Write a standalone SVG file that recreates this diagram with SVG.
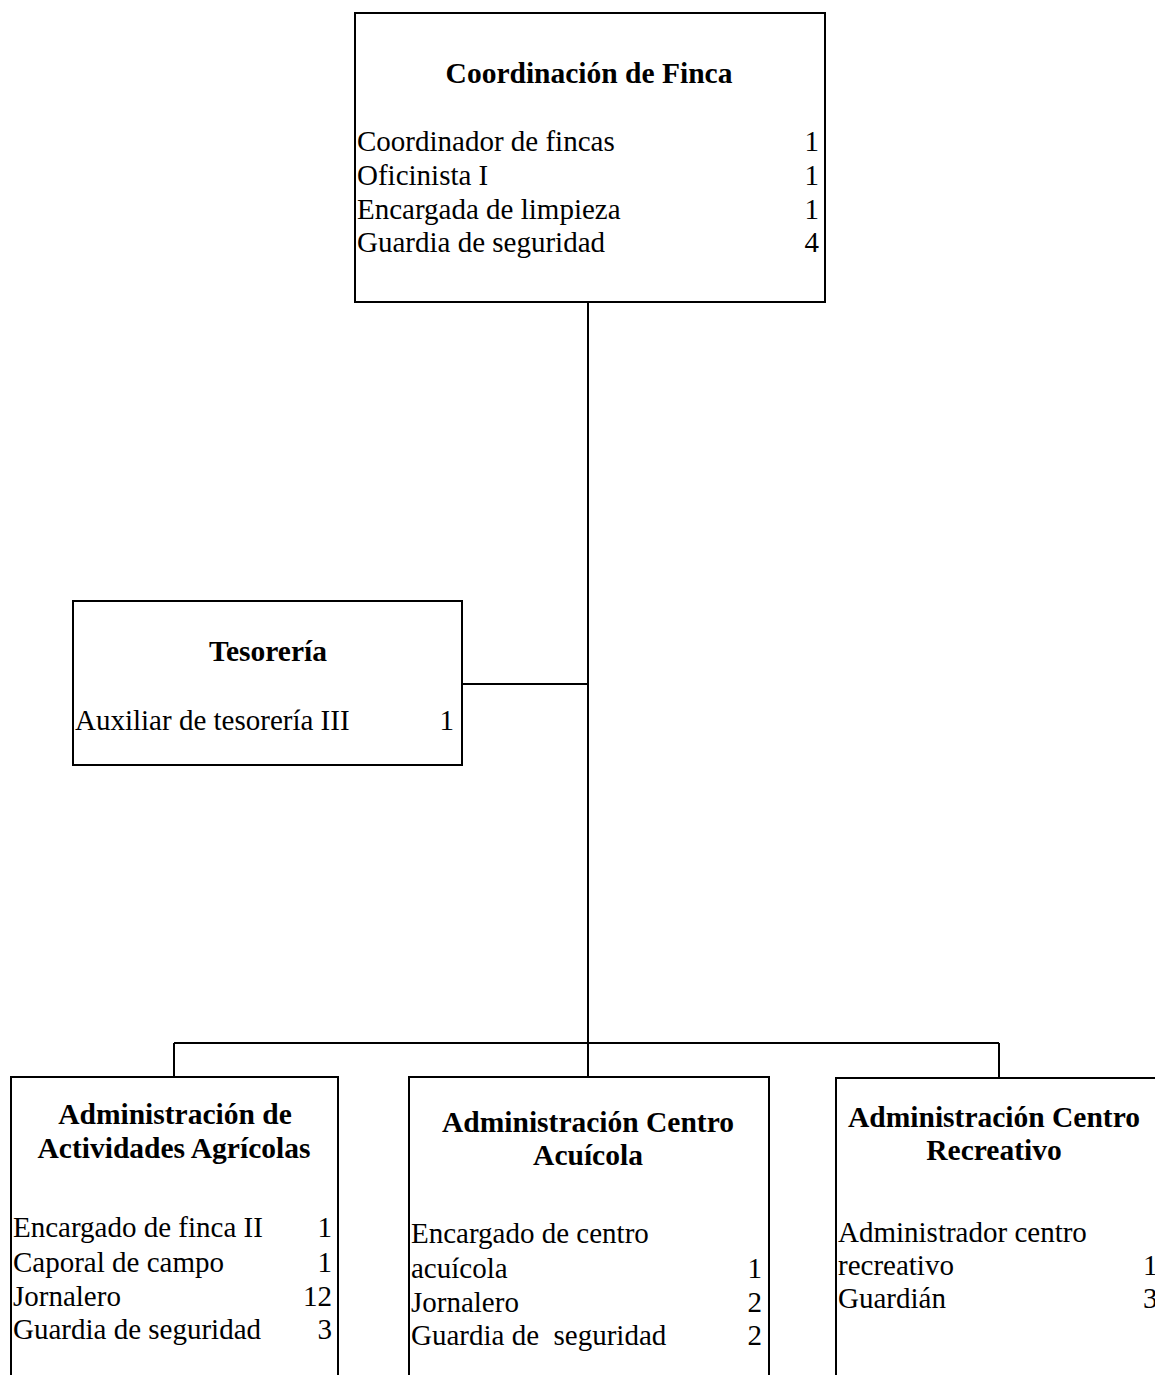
<svg xmlns="http://www.w3.org/2000/svg" width="1155" height="1375" viewBox="0 0 1155 1375">
<style>
.box{fill:#fff;stroke:#000;stroke-width:2}
.ln{stroke:#000;stroke-width:2;fill:none}
text{font-family:"Liberation Serif","Times New Roman",serif;fill:#000;font-size:29px}
.t{font-weight:bold;text-anchor:middle;font-size:29.5px}
.n{text-anchor:end}
</style>
<rect width="1155" height="1375" fill="#fff"/>
<g id="connectors">
<path class="ln" d="M588 302V1043M462 684H588M174 1043H999M174 1043V1077M588 1043V1077M999 1043V1077"/>
</g>
<g id="coordinacion">
<rect class="box" x="355" y="13" width="470" height="289"/>
<text class="t" x="589" y="83">Coordinación de Finca</text>
<text x="357" y="151">Coordinador de fincas</text><text class="n" x="819" y="151">1</text>
<text x="357" y="185">Oficinista I</text><text class="n" x="819" y="185">1</text>
<text x="357" y="219">Encargada de limpieza</text><text class="n" x="819" y="219">1</text>
<text x="357" y="252">Guardia de seguridad</text><text class="n" x="819" y="252">4</text>
</g>
<g id="tesoreria">
<rect class="box" x="73" y="601" width="389" height="164"/>
<text class="t" x="268" y="661">Tesorería</text>
<text x="75" y="730">Auxiliar de tesorería III</text><text class="n" x="454" y="730">1</text>
</g>
<g id="agricolas">
<rect class="box" x="11" y="1077" width="327" height="330"/>
<text class="t" x="175" y="1124">Administración de</text>
<text class="t" x="174" y="1158">Actividades Agrícolas</text>
<text x="13" y="1237">Encargado de finca II</text><text class="n" x="332" y="1237">1</text>
<text x="13" y="1272">Caporal de campo</text><text class="n" x="332" y="1272">1</text>
<text x="13" y="1306">Jornalero</text><text class="n" x="332" y="1306">12</text>
<text x="13" y="1339">Guardia de seguridad</text><text class="n" x="332" y="1339">3</text>
</g>
<g id="acuicola">
<rect class="box" x="409" y="1077" width="360" height="330"/>
<text class="t" x="588" y="1132">Administración Centro</text>
<text class="t" x="588" y="1165">Acuícola</text>
<text x="411" y="1243">Encargado de centro</text>
<text x="411" y="1278">acuícola</text><text class="n" x="762" y="1278">1</text>
<text x="411" y="1312">Jornalero</text><text class="n" x="762" y="1312">2</text>
<text x="411" y="1345" xml:space="preserve">Guardia de  seguridad</text><text class="n" x="762" y="1345">2</text>
</g>
<g id="recreativo">
<rect class="box" x="836" y="1078" width="360" height="330"/>
<text class="t" x="994" y="1127">Administración Centro</text>
<text class="t" x="994" y="1160">Recreativo</text>
<text x="838" y="1242">Administrador centro</text>
<text x="838" y="1275">recreativo</text><text x="1143" y="1275">1</text>
<text x="838" y="1308">Guardián</text><text x="1143" y="1308">3</text>
</g>
</svg>
